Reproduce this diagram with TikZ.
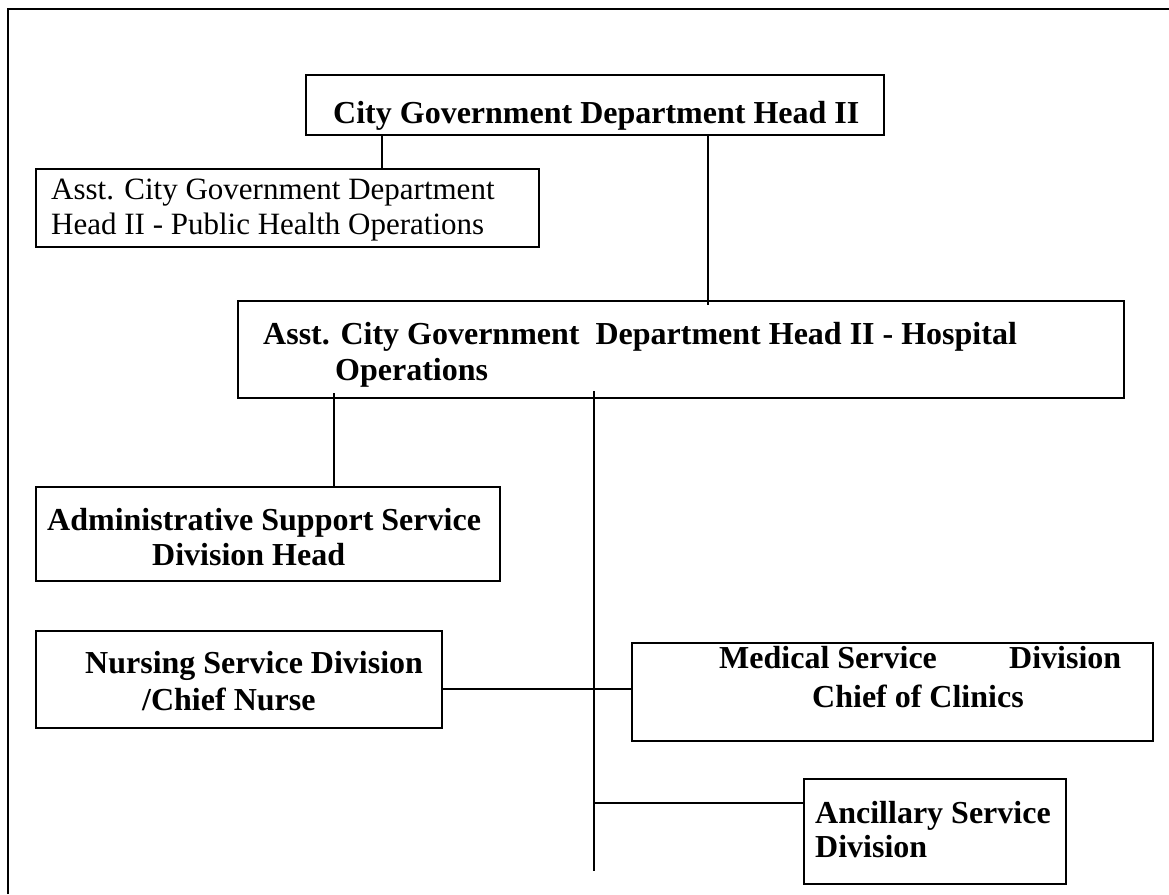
\documentclass[tikz,border=0pt]{standalone}
\usepackage{fontspec}
\setmainfont{Liberation Serif}
\begin{document}
\begin{tikzpicture}[x=1pt,y=-1pt,
  box/.style={draw, line width=2pt, inner sep=0pt},
  link/.style={line width=2pt},
  frame/.style={line width=2.5pt},
  % multi-line texts are anchored at the baseline of their last line
  bold/.style={font=\fontsize{32}{#1}\selectfont\bfseries, inner sep=0pt, anchor=base west, align=left},
  bold/.default=35,
  plain/.style={font=\fontsize{31}{#1}\selectfont, inner sep=0pt, anchor=base west, align=left},
  plain/.default=35]
\useasboundingbox (0,0) rectangle (1169,894);

% page frame (left and top edges)
\draw[frame] (8,894) -- (8,9) -- (1169,9);

% boxes
\node[box, minimum width=578pt, minimum height=60pt] (top)   at (595,105)   {};
\node[box, minimum width=503pt, minimum height=78pt] (pho)   at (287.5,208) {};
\node[box, minimum width=886pt, minimum height=97pt] (hosp)  at (681,349.5) {};
\node[box, minimum width=464pt, minimum height=94pt] (admin) at (268,534)   {};
\node[box, minimum width=406pt, minimum height=97pt] (nurse) at (239,679.5) {};
\node[box, minimum width=521pt, minimum height=98pt] (med)   at (892.5,692) {};
\node[box, minimum width=262pt, minimum height=105pt] (anc)  at (935,831.5) {};

% box texts
\node[bold] (t-top) at (333,123) {City Government Department Head II};
\node[plain=35] (t-pho) at (51,234) {Asst. City Government Department\\Head II - Public Health Operations};
\node[bold=36] (t-hosp) at (263,380) {Asst. City Government~ Department Head II - Hospital\\\hspace*{72pt}Operations};
\node[bold=35] (t-admin) at (47,565) {Administrative Support Service\\\hspace*{105pt}Division Head};
\node[bold=37] (t-nurse) at (85,710) {Nursing Service Division\\\hspace*{57pt}/Chief Nurse};
\node[bold=39] (t-med) at (719,707) {\makebox[290pt][l]{Medical Service}Division\\\hspace*{93pt}Chief of Clinics};
\node[bold=34] (t-anc) at (815,857) {Ancillary Service\\Division};

% connector end points
\coordinate (j-pho)   at (382,0);
\coordinate (j-hosp)  at (708,305);
\coordinate (j-admin) at (334,393);
\coordinate (trunk)   at (594,391);
\coordinate (trunk-end) at (594,871);
\coordinate (row-nm)  at (0,689);
\coordinate (row-anc) at (0,803);

% connectors
\draw[link] (top.south -| j-pho) -- (pho.north -| j-pho);
\draw[link] (top.south -| j-hosp) -- (j-hosp);
\draw[link] (j-admin) -- (admin.north -| j-admin);
\draw[link] (trunk) -- (trunk-end);
\draw[link] (nurse.east |- row-nm) -- (med.west |- row-nm);
\draw[link] (trunk |- row-anc) -- (anc.west |- row-anc);
\end{tikzpicture}
\end{document}
